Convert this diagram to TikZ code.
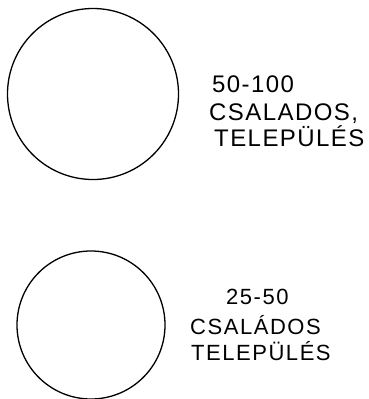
\documentclass[tikz,border=0pt]{standalone}
\usepackage{fontspec}
\setmainfont{Liberation Sans}
\newfontfamily\labA[LetterSpace=6]{Liberation Sans}
\newfontfamily\labB[LetterSpace=7]{Liberation Sans}
\begin{document}
\begin{tikzpicture}[x=1pt,y=1pt,
  ring/.style={draw=black,line width=1.3pt},
  labtop/.style={anchor=base west,inner sep=0pt,font=\labA\fontsize{24}{24}\selectfont},
  labbot/.style={anchor=base west,inner sep=0pt,font=\labB\fontsize{22}{22}\selectfont}]
\useasboundingbox (0,0) rectangle (368,-399);
\draw[ring] (93,-94) circle (85.5);
\draw[ring] (91,-325) circle (74);
\node[labtop] (t1) at (212,-92) {50-100};
\node[labtop] (t2) at (209,-120) {CSALADOS,};
\node[labtop] (t3) at (214,-146) {TELEPÜLÉS};
\node[labbot] (b1) at (226,-304) {25-50};
\node[labbot] (b2) at (190,-334) {CSALÁDOS};
\node[labbot] (b3) at (191,-360) {TELEPÜLÉS};
\end{tikzpicture}
\end{document}
